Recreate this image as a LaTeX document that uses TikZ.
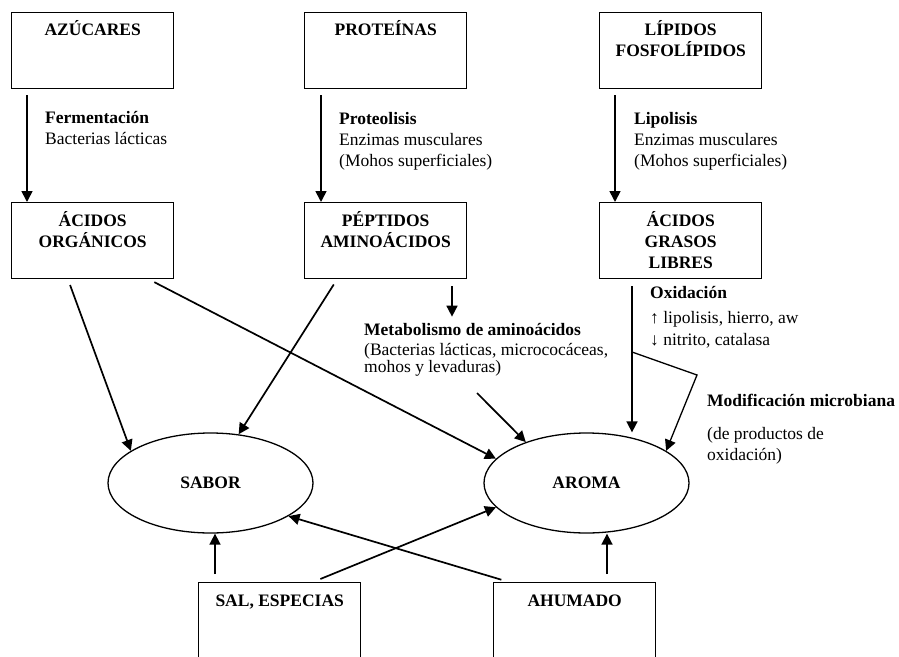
\documentclass[tikz,border=0pt]{standalone}
\usepackage{fontspec}
\setmainfont{Liberation Serif}
\usetikzlibrary{arrows.meta,shapes.geometric,positioning}
\newcommand\basefont{\fontsize{17.5}{21}\selectfont}

\tikzset{
  box/.style={draw,line width=1.4pt,minimum width=162pt,minimum height=76pt,inner sep=0pt,anchor=north west},
  oval/.style={draw,ellipse,line width=1.3pt,minimum width=205pt,minimum height=100pt,inner sep=0pt,font=\basefont\bfseries},
  title/.style={font=\basefont\bfseries,align=center,anchor=base,inner sep=0pt},
  note/.style={font=\basefont,align=left,anchor=base west,inner sep=0pt},
  flow/.style={line width=1.7pt,-{Triangle[length=11pt,width=11pt]}},
}

\begin{document}
\begin{tikzpicture}[x=1pt,y=-1pt]
\useasboundingbox (0,0) rectangle (899,656);
% boxes
\node[box] (azucares) at (11,12) {};
\node[box] (proteinas) at (304,12) {};
\node[box] (lipidos) at (599,12) {};
\node[box] (acidos) at (11,202) {};
\node[box] (peptidos) at (304,202) {};
\node[box] (grasos) at (599,202) {};
\node[box] (sal) at (198,582) {};
\node[box] (ahumado) at (493,582) {};
% titles (base = last line)
\node[title] at ([yshift=-23pt]azucares.north) {AZÚCARES};
\node[title] at ([yshift=-23pt]proteinas.north) {PROTEÍNAS};
\node[title] at ([yshift=-44pt]lipidos.north) {LÍPIDOS\\FOSFOLÍPIDOS};
\node[title] at ([yshift=-45pt]acidos.north) {ÁCIDOS\\ORGÁNICOS};
\node[title] at ([yshift=-45pt]peptidos.north) {PÉPTIDOS\\AMINOÁCIDOS};
\node[title] at ([yshift=-66pt]grasos.north) {ÁCIDOS\\GRASOS\\LIBRES};
\node[title] at ([yshift=-24pt]sal.north) {SAL, ESPECIAS};
\node[title] at ([yshift=-24pt]ahumado.north) {AHUMADO};
% ellipses
\node[oval] (sabor) at (210.5,483) {SABOR};
\node[oval] (aroma) at (586.5,483) {AROMA};
% labels
\node[note] (ferm) at (45,144) {\textbf{Fermentación}\\Bacterias lácticas};
\node[note] (prot) at (339,166) {\textbf{Proteolisis}\\Enzimas musculares\\(Mohos superficiales)};
\node[note] (lipo) at (634,166) {\textbf{Lipolisis}\\Enzimas musculares\\(Mohos superficiales)};
\node[note] (oxid) at (650,345) {\textbf{Oxidación}\\[4pt]↑ lipolisis, hierro, aw\\[1pt]↓ nitrito, catalasa};
\node[note,font=\basefont\bfseries] (metab) at (364,335) {Metabolismo de aminoácidos};
\node[note,font=\fontsize{17.5}{15.5}\selectfont] (metabsub) at (364,372) {(Bacterias lácticas, micrococáceas,\\mohos y levaduras)};
\node[note,font=\basefont\bfseries] (modif) at (707,406) {Modificación microbiana};
\node[note] (modifsub) at (707,460) {(de productos de\\oxidación)};
% arrows
\draw[flow,shorten <=6pt] ([xshift=16pt]azucares.south west) -- ([xshift=16pt]acidos.north west);
\draw[flow,shorten <=6pt] ([xshift=17pt]proteinas.south west) -- ([xshift=17pt]peptidos.north west);
\draw[flow,shorten <=6pt] ([xshift=16pt]lipidos.south west) -- ([xshift=16pt]grasos.north west);
\draw[flow,shorten <=6pt] ([xshift=57pt]acidos.south west) -- (sabor.158);
\draw[flow,shorten <=6pt] ([xshift=138pt]acidos.south west) -- (aroma.165);
\draw[flow,shorten <=6pt] ([xshift=33pt]peptidos.south west) -- (sabor.60);
\coordinate (pepout) at ([xshift=148pt]peptidos.south west);
\draw[flow,shorten <=7pt,shorten >=6pt] (pepout) -- (pepout |- metab.north);
\coordinate (metabout) at (477,393);
\draw[flow] (metabout) -- (aroma.146);
\coordinate (oxidout) at ([xshift=33pt]grasos.south west);
\draw[flow,shorten <=7pt] (oxidout) -- (oxidout |- aroma.north);
\coordinate (split) at (632,352);
\coordinate (bend) at (697,375);
\draw[flow,line width=1.3pt] (split) -- (bend) -- (aroma.22);
\coordinate (salout) at ([xshift=17pt]sal.north west);
\draw[flow,shorten <=8pt] (salout) -- (salout |- sabor.south);
\draw[flow,shorten <=8pt] ([xshift=115pt]sal.north west) -- (aroma.195);
\draw[flow,shorten <=8pt] ([xshift=16pt]ahumado.north west) -- (sabor.-23);
\coordinate (ahuout) at ([xshift=114pt]ahumado.north west);
\draw[flow,shorten <=8pt] (ahuout) -- (ahuout |- aroma.south);
\end{tikzpicture}
\end{document}
